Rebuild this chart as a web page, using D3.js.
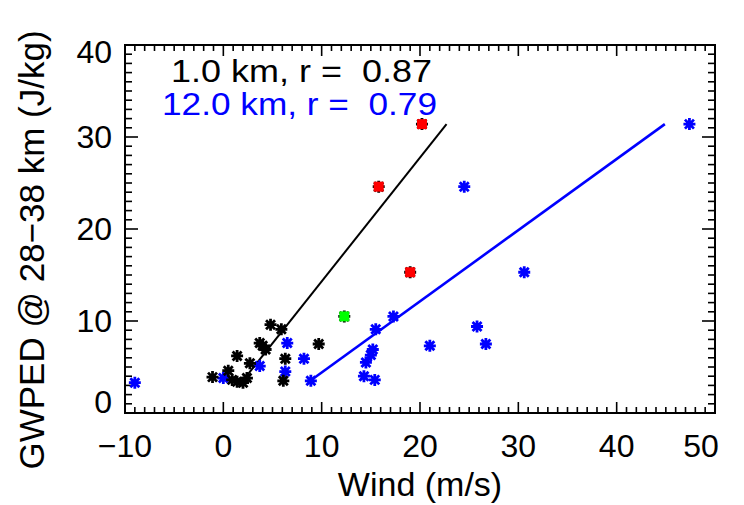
<!DOCTYPE html>
<html>
<head>
<meta charset="utf-8">
<script src="https://cdn.jsdelivr.net/npm/d3@7"></script>
<style>
  html, body { margin: 0; padding: 0; background: #fff; }
  svg { display: block; font-family: "Liberation Sans", Arial, Helvetica, sans-serif; }
  .keep { white-space: pre; }
</style>
</head>
<body>
<svg id="chart" width="744" height="505"></svg>
<script>
// Wind at 1 km (black) vs gravity-wave potential energy density
const km1Wind  = [4.8, 5.9, 3.7, 4.3, 4.0, 9.7, 6.3, 1.4, 2.7, 2.4, 0.5, -1.1, 1.4, 2.0, 0.9, 6.1];
const km1Gwped = [9.6, 9.1, 7.6, 6.9, 7.3, 7.5, 5.9, 6.2, 5.4, 3.8, 4.6, 3.9, 3.4, 3.3, 3.6, 3.5];

// Highlighted 1 km events
const redWind  = [20.2, 15.8, 19.0];
const redGwped = [31.4, 24.6, 15.3];
const greenWind  = [12.3];
const greenGwped = [10.5];

// Wind at 12 km (blue)
const km12Wind  = [47.4, 24.5, 30.6, 25.8, 26.7, 17.3, 21.0, 15.5, 15.2, 15.0, 14.5, 14.3, 15.4, 8.9, 8.2, 6.5, 6.3, 3.7, 0.0, -9.0];
const km12Gwped = [31.4, 24.6, 15.3, 9.4, 7.5, 10.5, 7.3, 9.1, 6.9, 6.3, 5.5, 4.0, 3.6, 3.5, 5.9, 7.6, 4.5, 5.1, 3.8, 3.3];

// Fitted regression lines (end points)
const fit1Wind  = [1.9, 22.7];
const fit1Gwped = [3.4, 31.4];
const fit12Wind  = [8.7, 44.9];
const fit12Gwped = [3.4, 31.4];

// Axis ticks and annotations
const xMajor = [-10, 0, 10, 20, 30, 40, 50];
const yMajor = [0, 10, 20, 30, 40];
const corrLabels = ["1.0 km, r =  0.87", "12.0 km, r =  0.79"];

const svg = d3.select("#chart");
const x = d3.scaleLinear().domain([-10, 50]).range([125, 715]);
const y = d3.scaleLinear().domain([0, 40]).range([413, 45]);
const fmt = d3.format("d");

const axisG = svg.append("g").attr("stroke", "#000");
const xMinor = d3.range(-10, 51, 1);
const yMinor = d3.range(0, 41, 1);

// x ticks on bottom and top (inward)
xMinor.forEach(v => {
  const len = v % 10 === 0 ? 11 : 6;
  axisG.append("line").attr("x1", x(v)).attr("x2", x(v)).attr("y1", y(0)).attr("y2", y(0) - len).attr("stroke-width", 1.6);
  axisG.append("line").attr("x1", x(v)).attr("x2", x(v)).attr("y1", y(40)).attr("y2", y(40) + len).attr("stroke-width", 1.6);
});
// y ticks on left and right (inward)
yMinor.forEach(v => {
  const len = v % 10 === 0 ? 13 : 7;
  axisG.append("line").attr("y1", y(v)).attr("y2", y(v)).attr("x1", x(-10)).attr("x2", x(-10) + len).attr("stroke-width", 1.6);
  axisG.append("line").attr("y1", y(v)).attr("y2", y(v)).attr("x1", x(50)).attr("x2", x(50) - len).attr("stroke-width", 1.6);
});
axisG.append("rect")
  .attr("x", x(-10)).attr("y", y(40))
  .attr("width", x(50) - x(-10)).attr("height", y(0) - y(40))
  .attr("fill", "none").attr("stroke-width", 2);

// tick labels (end labels kept inside the frame extent)
const xShift = v => (v === 50 ? -14 : 0);
const yShift = v => (v === 0 ? -11 : v === 40 ? 7 : 0);
svg.append("g").selectAll("text").data(xMajor).join("text")
  .attr("x", d => x(d) + xShift(d)).attr("y", 457)
  .attr("text-anchor", "middle").attr("font-size", 32).attr("fill", "#000")
  .text(d => fmt(d));
svg.append("g").selectAll("text").data(yMajor).join("text")
  .attr("x", 112).attr("y", d => y(d) + yShift(d)).attr("dy", "0.35em")
  .attr("text-anchor", "end").attr("font-size", 32).attr("fill", "#000")
  .text(d => fmt(d));

// axis titles
svg.append("text").attr("x", 420).attr("y", 496)
  .attr("text-anchor", "middle").attr("font-size", 34).text("Wind (m/s)");
svg.append("text")
  .attr("transform", "translate(44,250) rotate(-90)")
  .attr("text-anchor", "middle").attr("font-size", 35)
  .text("GWPED @ 28\u221238 km (J/kg)");

// regression lines
const line = d3.line().x(d => x(d[0])).y(d => y(d[1]));
svg.append("path").datum(d3.zip(fit1Wind, fit1Gwped))
  .attr("d", line).attr("fill", "none").attr("stroke", "#000").attr("stroke-width", 2);
svg.append("path").datum(d3.zip(fit12Wind, fit12Gwped))
  .attr("d", line).attr("fill", "none").attr("stroke", "#0000ff").attr("stroke-width", 2.6);

// asterisk marker
const r = 6, dd = r * 0.75;
const star = `M${-r},0L${r},0M0,${-r}L0,${r}M${-dd},${-dd}L${dd},${dd}M${-dd},${dd}L${dd},${-dd}`;
function stars(xs, ys, color) {
  svg.append("g").selectAll("path").data(d3.zip(xs, ys)).join("path")
    .attr("transform", d => `translate(${x(d[0])},${y(d[1])})`)
    .attr("d", star).attr("fill", "none")
    .attr("stroke", color).attr("stroke-width", 2.8);
}
function squares(xs, ys, color) {
  svg.append("g").selectAll("rect").data(d3.zip(xs, ys)).join("rect")
    .attr("x", d => x(d[0]) - 5).attr("y", d => y(d[1]) - 5)
    .attr("width", 10).attr("height", 10).attr("fill", color);
}

stars(km12Wind, km12Gwped, "#0000ff");
stars(km1Wind, km1Gwped, "#000");
stars(redWind, redGwped, "#000");
squares(redWind, redGwped, "#ff0000");
stars(greenWind, greenGwped, "#000");
squares(greenWind, greenGwped, "#00ff00");

// correlation annotations
svg.append("text").attr("class", "keep").attr("x", 171).attr("y", 82)
  .attr("font-size", 32).attr("fill", "#000")
  .attr("textLength", 261).attr("lengthAdjust", "spacingAndGlyphs")
  .text(corrLabels[0]);
svg.append("text").attr("class", "keep").attr("x", 162).attr("y", 115)
  .attr("font-size", 32).attr("fill", "#0000ff")
  .attr("textLength", 275).attr("lengthAdjust", "spacingAndGlyphs")
  .text(corrLabels[1]);
</script>
</body>
</html>
